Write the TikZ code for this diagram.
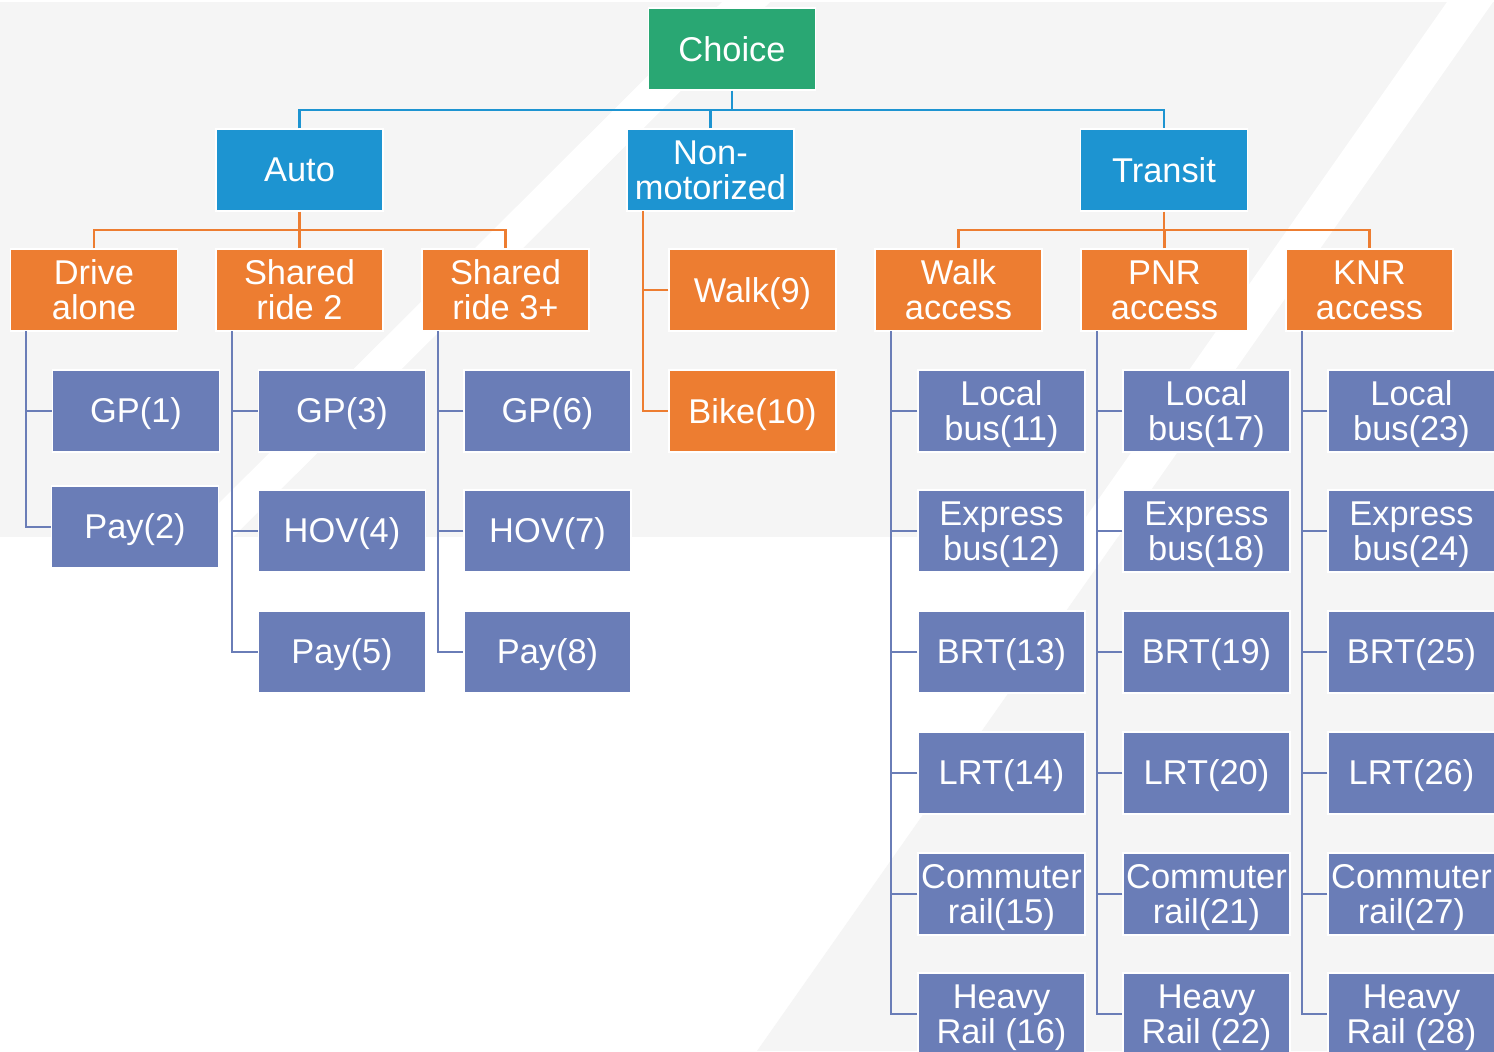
\documentclass[tikz,border=0pt]{standalone}
\usepackage{fontspec}
\setmainfont{Liberation Sans}
\definecolor{cgreen}{RGB}{41,167,115}
\definecolor{cblue}{RGB}{29,148,209}
\definecolor{corange}{RGB}{237,125,49}
\definecolor{cpurple}{RGB}{106,125,183}
\definecolor{bggray}{RGB}{245,245,245}
\newcommand\parn[1]{\smash{(#1)}}
\begin{document}
\begin{tikzpicture}[x=0.5pt,y=-0.5pt,
  box/.style={draw=white, line width=0.7pt, minimum width=83.5pt, minimum height=41pt,
    inner sep=0pt, text=white, align=center,
    font=\fontsize{17.2pt}{17.6pt}\selectfont},
  rootbox/.style={box, fill=cgreen},
  bluebox/.style={box, fill=cblue},
  orangebox/.style={box, fill=corange},
  purplebox/.style={box, fill=cpurple},
  blueline/.style={draw=cblue, line width=1.1pt},
  orangeline/.style={draw=corange, line width=1.1pt},
  purpleline/.style={draw=cpurple, line width=1.1pt}]
\useasboundingbox (0,0) rectangle (1494,1051);
\clip (0,0) rectangle (1494,1051);
% background
\fill[white] (0,0) rectangle (1494,1051);
\fill[bggray] (0,2) rectangle (1494,537);
\fill[white] (722,2) -- (770,2) -- (233,537) -- (185,537) -- cycle;
\fill[white] (1447,2) -- (1493,2) -- (1118,537) -- (1072,537) -- cycle;
\fill[bggray] (1118,537) -- (1494,537) -- (1494,1051) -- (757,1051) -- cycle;

% level 0 and 1
\node[rootbox] (choice) at (732,49) {Choice};
\node[bluebox] (auto) at (299.5,170) {Auto};
\node[bluebox] (nonmot) at (710.5,170) {Non-\\motorized};
\node[bluebox] (transit) at (1164,170) {Transit};

% level 2
\node[orangebox] (drive) at (94,290) {Drive\\alone};
\node[orangebox] (sr2) at (299.5,290) {Shared\\ride 2};
\node[orangebox] (sr3) at (505.5,290) {Shared\\ride 3+};
\node[orangebox] (walk) at (752.5,290) {Walk\parn{9}};
\node[orangebox] (bike) at (752.5,411) {Bike\parn{10}};
\node[orangebox] (wacc) at (958.5,290) {Walk\\access};
\node[orangebox] (pnr) at (1164.5,290) {PNR\\access};
\node[orangebox] (knr) at (1369.5,290) {KNR\\access};

% auto leaves
\node[purplebox] (gp1) at (136,411) {GP\parn{1}};
\node[purplebox] (pay2) at (135,527) {Pa\smash{y}\parn{2}};
\node[purplebox] (gp3) at (342,411) {GP\parn{3}};
\node[purplebox] (hov4) at (342,531) {HOV\parn{4}};
\node[purplebox] (pay5) at (342,652) {Pa\smash{y}\parn{5}};
\node[purplebox] (gp6) at (547.5,411) {GP\parn{6}};
\node[purplebox] (hov7) at (547.5,531) {HOV\parn{7}};
\node[purplebox] (pay8) at (547.5,652) {Pa\smash{y}\parn{8}};

% walk access leaves
\node[purplebox] (w1) at (1001.5,411) {Local\\bus\parn{11}};
\node[purplebox] (w2) at (1001.5,531) {Express\\bus\parn{12}};
\node[purplebox] (w3) at (1001.5,652) {BRT\parn{13}};
\node[purplebox] (w4) at (1001.5,773) {LRT\parn{14}};
\node[purplebox] (w5) at (1001.5,894) {Commuter\\rail\parn{15}};
\node[purplebox] (w6) at (1001.5,1014) {Heavy\\Rail \parn{16}};
% PNR leaves
\node[purplebox] (p1) at (1206.5,411) {Local\\bus\parn{17}};
\node[purplebox] (p2) at (1206.5,531) {Express\\bus\parn{18}};
\node[purplebox] (p3) at (1206.5,652) {BRT\parn{19}};
\node[purplebox] (p4) at (1206.5,773) {LRT\parn{20}};
\node[purplebox] (p5) at (1206.5,894) {Commuter\\rail\parn{21}};
\node[purplebox] (p6) at (1206.5,1014) {Heavy\\Rail \parn{22}};
% KNR leaves
\node[purplebox] (k1) at (1411.5,411) {Local\\bus\parn{23}};
\node[purplebox] (k2) at (1411.5,531) {Express\\bus\parn{24}};
\node[purplebox] (k3) at (1411.5,652) {BRT\parn{25}};
\node[purplebox] (k4) at (1411.5,773) {LRT\parn{26}};
\node[purplebox] (k5) at (1411.5,894) {Commuter\\rail\parn{27}};
\node[purplebox] (k6) at (1411.5,1014) {Heavy\\Rail \parn{28}};

% blue connectors
\coordinate (busA) at (732,110);
\draw[blueline] (choice.south) -- (busA);
\draw[blueline] (auto.north) -- (auto.north |- busA) -- (transit.north |- busA) -- (transit.north);
\draw[blueline] (nonmot.north) -- (nonmot.north |- busA);

% orange connectors
\coordinate (busB) at (0,230);
\draw[orangeline] (auto.south) -- (auto.south |- busB);
\draw[orangeline] (drive.north) -- (drive.north |- busB) -- (sr3.north |- busB) -- (sr3.north);
\draw[orangeline] (sr2.north) -- (sr2.north |- busB);
\draw[orangeline] (transit.south) -- (transit.south |- busB);
\draw[orangeline] (wacc.north) -- (wacc.north |- busB) -- (knr.north |- busB) -- (knr.north);
\draw[orangeline] (pnr.north) -- (pnr.north |- busB);
\coordinate (nmx) at (643,211);
\draw[orangeline] (nmx) |- (bike.west);
\draw[orangeline] (walk.west) -- (walk.west -| nmx);

% purple connectors
\coordinate (dx) at (26,331);
\draw[purpleline] (dx) |- (pay2.west);
\draw[purpleline] (gp1.west) -- (gp1.west -| dx);
\coordinate (sx) at (232,331);
\draw[purpleline] (sx) |- (pay5.west);
\draw[purpleline] (gp3.west) -- (gp3.west -| sx);
\draw[purpleline] (hov4.west) -- (hov4.west -| sx);
\coordinate (tx) at (438,331);
\draw[purpleline] (tx) |- (pay8.west);
\draw[purpleline] (gp6.west) -- (gp6.west -| tx);
\draw[purpleline] (hov7.west) -- (hov7.west -| tx);
\coordinate (wx) at (891,331);
\draw[purpleline] (wx) |- (w6.west);
\foreach \n in {w1,w2,w3,w4,w5} \draw[purpleline] (\n.west) -- (\n.west -| wx);
\coordinate (px) at (1097,331);
\draw[purpleline] (px) |- (p6.west);
\foreach \n in {p1,p2,p3,p4,p5} \draw[purpleline] (\n.west) -- (\n.west -| px);
\coordinate (kx) at (1302,331);
\draw[purpleline] (kx) |- (k6.west);
\foreach \n in {k1,k2,k3,k4,k5} \draw[purpleline] (\n.west) -- (\n.west -| kx);
\end{tikzpicture}
\end{document}
